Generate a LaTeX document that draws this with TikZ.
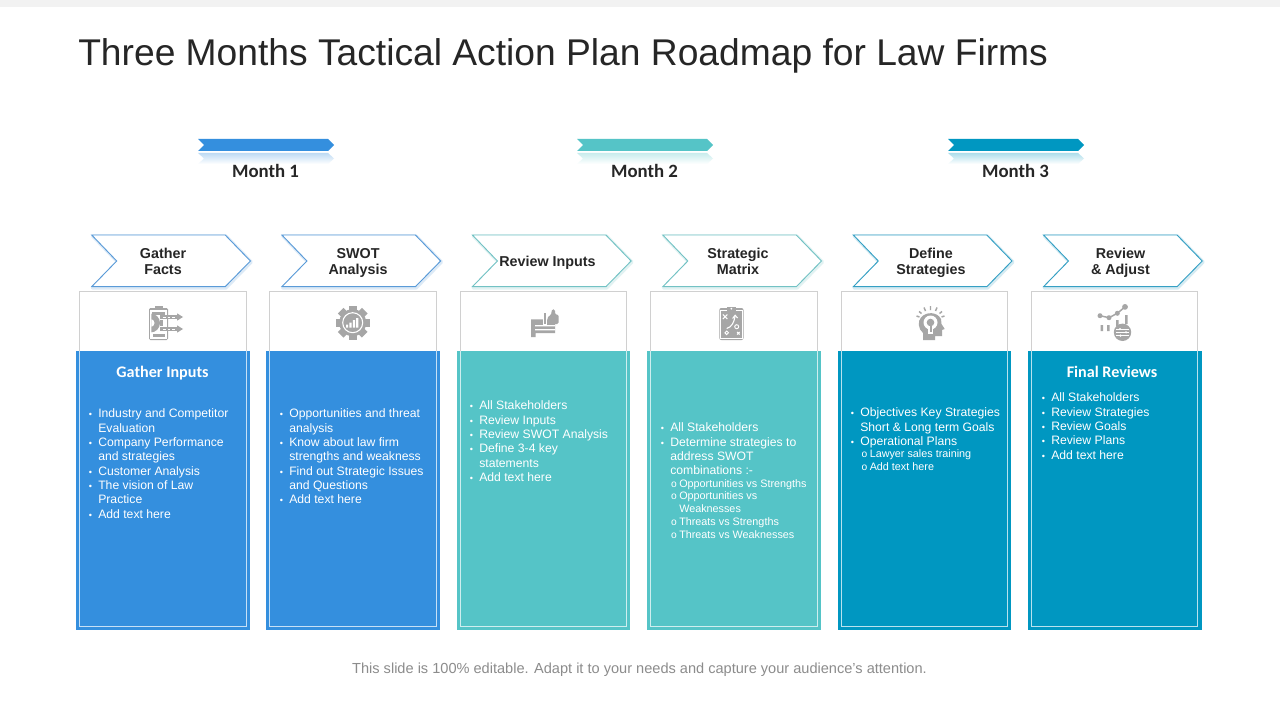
\documentclass[tikz,border=0pt]{standalone}
\usepackage{fontspec}
\setmainfont{Liberation Sans}
\newfontfamily\calib{Carlito}
\definecolor{cblue}{HTML}{348FDE}
\definecolor{cteal}{HTML}{55C4C7}
\definecolor{cdark}{HTML}{0097C1}
\definecolor{eblue}{HTML}{5A9BD8}
\definecolor{eteal}{HTML}{72C2C4}
\definecolor{edark}{HTML}{35A0C4}
\definecolor{ink}{HTML}{262626}
\definecolor{icon}{HTML}{A6A6A6}
\definecolor{edge}{HTML}{D0D0D0}
\definecolor{foot}{HTML}{8C8C8C}
\tikzset{
  x=0.75pt,y=-0.75pt,
  body/.style={font=\fontsize{9.15}{10.75}\selectfont,text=white,align=left,anchor=north west,inner sep=0pt},
  subbody/.style={font=\fontsize{8.1}{9.55}\selectfont,text=white,align=left,anchor=north west,inner sep=0pt},
  steplabel/.style={font=\fontsize{10.75}{12}\selectfont\bfseries,text=ink,align=center,inner sep=0pt},
  monthlabel/.style={font=\calib\fontsize{14.1}{15}\selectfont\bfseries,text=ink,inner sep=0pt},
  cardhead/.style={font=\calib\fontsize{12.1}{13}\selectfont\bfseries,text=white,inner sep=0pt,anchor=base},
}
\newcommand{\bl}{\leavevmode\strut\llap{\scalebox{0.75}{•}\hspace{4.6pt}}}
\newcommand{\sbl}{\leavevmode\strut\llap{\scalebox{0.95}{o}\hspace{1.8pt}}}
\newcommand{\ribbon}[3]{%
  \shade[top color=#3,bottom color=white,shading angle=0]
    (#1,153) -- (#1+130,153) -- (#1+136,158.5) -- (#1+130,164) -- (#1,164) -- (#1+6,158.5) -- cycle;
  \fill[#2] (#1,139) -- (#1+130,139) -- (#1+136,145) -- (#1+130,151) -- (#1,151) -- (#1+6,145) -- cycle;
}
\newcommand{\chev}[2]{%
  \draw[#2!40,line width=2.6pt,line join=round,opacity=.5]
    (#1+1,236) -- (#1+134,236) -- (#1+159.5,262) -- (#1+134,288) -- (#1+1,288) -- (#1+26,262) -- cycle;
  \draw[#2,fill=white,line width=0.7pt,line join=miter]
    (#1,235) -- (#1+133.5,235) -- (#1+158.7,261) -- (#1+133.5,286.7) -- (#1,286.7) -- (#1+25,261) -- cycle;
}
\newcommand{\card}[4]{%
  \fill[#4] (#2,351) rectangle (#3,630);
  \draw[edge,line width=0.75pt] (#1,351) -- (#1,291.5) -- (#1+166.5,291.5) -- (#1+166.5,351);
  \draw[white!72!#4,line width=0.75pt] (#1,351) -- (#1,626.8) -- (#1+166.5,626.8) -- (#1+166.5,351);
}
\begin{document}
\begin{tikzpicture}
\useasboundingbox (0,0) rectangle (1280,720);
\fill[white] (0,0) rectangle (1280,720);
\fill[black!5] (0,0) rectangle (1280,7);
\node[anchor=base west,inner sep=0pt,text=ink,font=\fontsize{27.9}{30}\selectfont] (title) at (78,66) {Three Months Tactical Action Plan Roadmap for Law Firms};

\ribbon{198}{cblue}{cblue!32}
\ribbon{577}{cteal}{cteal!32}
\ribbon{948}{cdark}{cdark!32}
\node[monthlabel] (m1) at (265.5,171) {Month 1};
\node[monthlabel] (m2) at (644.5,171) {Month 2};
\node[monthlabel] (m3) at (1015.5,171) {Month 3};

\chev{91.7}{eblue}\chev{281.9}{eblue}\chev{472.4}{eteal}\chev{662.8}{eteal}\chev{853.3}{edark}\chev{1043.5}{edark}
\node[steplabel] (s1) at (163,263) {\strut Gather\\\strut Facts};
\node[steplabel] (s2) at (358,263) {\strut SWOT\\\strut Analysis};
\node[steplabel] (s3) at (547.5,263) {\strut Review Inputs};
\node[steplabel] (s4) at (738,263) {\strut Strategic\\\strut Matrix};
\node[steplabel] (s5) at (931,263) {\strut Define\\\strut Strategies};
\node[steplabel] (s6) at (1120.5,263) {\strut Review\\\strut\&{} Adjust};

\card{79.5}{76}{250}{cblue}
\card{269.7}{266}{440}{cblue}
\card{460.2}{457}{630}{cteal}
\card{650.6}{647}{821}{cteal}
\card{841.2}{838}{1011}{cdark}
\card{1031.4}{1028}{1202}{cdark}

% icon 1: clipboard, gear and arrows
\fill[icon,rounded corners=1pt] (149,308) rectangle (168,340);
\fill[icon] (155,305.5) rectangle (163,310);
\fill[white] (150.3,310) rectangle (166.7,338.8);
\fill[icon] (152,311.5) rectangle (165,314.5);
\begin{scope}
\clip (151.3,311) rectangle (166,338);
\fill[icon] (150.5,323) circle[radius=9.5];
\fill[white] (150.5,323) circle[radius=4];
\end{scope}
\fill[icon] (153,334) rectangle (165,337);
\fill[icon] (160,320) rectangle (163,326);
\fill[icon] (160,315.3) rectangle (178,318.7);
\fill[icon] (177,313.3) -- (183,317) -- (177,320.7) -- cycle;
\fill[icon] (160,327.3) rectangle (178,330.7);
\fill[icon] (177,325.3) -- (183,329) -- (177,332.7) -- cycle;
\draw[white,line width=0.6pt,dash pattern=on 2pt off 1.5pt] (163,317) -- (177,317) (163,329) -- (177,329);

% icon 2: gear
\foreach \a in {0,45,...,315}
  \fill[icon,rotate around={\a:(352.7,322.7)}] (348.7,305.7) rectangle (356.7,312);
\fill[icon] (352.7,322.7) circle[radius=13.5];
\draw[white,line width=0.8pt] (352.7,322.7) circle[radius=10];
\fill[white] (346,327.5) rectangle (348.2,324.5) (349.4,327.5) rectangle (351.6,322.5) (352.8,327.5) rectangle (355,320) (356.2,327.5) rectangle (358.4,318);

% icon 3: speech and thumb
\fill[icon] (531,319.3) rectangle (555,333) (531,333) rectangle (535.5,337);
\fill[white] (535,325) rectangle (555,326.3) (535,329) rectangle (555,330.3);
\fill[white] (542.5,312) rectangle (547.3,324.6);
\fill[icon] (543.5,313) rectangle (545.7,324);
\fill[icon,rounded corners=1pt] (547.5,317) -- (551,315) -- (552,309.3) -- (555,309.5) -- (555,314.5) -- (558.5,314.5) -- (558.5,324) -- (547.5,324) -- cycle;

% icon 4: playbook clipboard
\fill[icon,rounded corners=1.5pt] (719.3,308) rectangle (743.5,340);
\fill[white] (720.3,309.5) rectangle (742.5,338.8);
\fill[icon] (721.3,310.5) rectangle (741.5,337.8);
\fill[icon] (727,306.5) rectangle (735.5,311);
\fill[white] (731.3,308.7) circle[radius=1];
\draw[white,line width=0.8pt] (722.8,314.5) -- (727.3,319) (727.3,314.5) -- (722.8,319) (737,332) -- (739.5,334.5) (739.5,332) -- (737,334.5);
\draw[white,line width=0.8pt] (726.7,328.5) .. controls (732,327) and (734,322) .. (735,316.5);
\draw[white,line width=0.8pt] (732.6,318.5) -- (735.1,315.3) -- (737.6,318);
\draw[white,line width=0.7pt] (736.7,326.7) circle[radius=2] (726.7,332.8) circle[radius=1.8];

% icon 5: head with bulb
\fill[icon] (923,340) -- (923,333) .. controls (918,329) and (917.5,321) .. (921,317.5) .. controls (926,311.5) and (937,311.5) .. (941,319) -- (941.5,324) -- (944.7,329) -- (942,330) -- (942,336) -- (935,336) -- (935,340) -- cycle;
\fill[white] (930.5,322.5) circle[radius=7];
\fill[white] (927.7,327) rectangle (933.3,334);
\fill[icon] (930.5,322.5) circle[radius=3.8];
\fill[icon] (929.5,324) rectangle (931.5,332);
\draw[icon,line width=1.1pt] (930.5,306) -- (930.5,310) (924,307.5) -- (925.5,311) (937,307.5) -- (935.5,311) (919,311.5) -- (921.5,313.5) (942,311.5) -- (939.5,313.5) (916.5,316) -- (919.5,317) (944.5,316) -- (941.5,317);

% icon 6: chart and sliders
\draw[icon,line width=1.1pt] (1100,315.7) -- (1109,317.7) -- (1117.3,313.3) -- (1125,306.9);
\fill[icon] (1100,315.7) circle[radius=2.5] (1109,317.7) circle[radius=2.5] (1117.3,313.3) circle[radius=2.5] (1125,306.9) circle[radius=2.9];
\fill[icon] (1100.5,325) rectangle (1103,331) (1107,325) rectangle (1109.5,331) (1116,320) rectangle (1118.5,326) (1125,315) rectangle (1127.5,324);
\fill[icon] (1122.5,332.3) circle[radius=8.7];
\draw[white,line width=0.55pt] (1116,329) -- (1129,329) (1116,332.3) -- (1129,332.3) (1116,335.6) -- (1129,335.6);
\fill[white] (1120,329) circle[radius=1.2] (1126,332.3) circle[radius=1.2] (1120.5,335.6) circle[radius=1.2];

% card heads
\node[cardhead] (h1) at (162.5,377.5) {Gather Inputs};
\node[cardhead] (h6) at (1112,377.5) {Final Reviews};

% card texts
\node[body] (t1) at (98,407.5) {\bl Industry and Competitor\\\strut Evaluation\\\bl Company Performance\\\strut and strategies\\\bl Customer Analysis\\\bl The vision of Law\\\strut Practice\\\bl Add text here};
\node[body] (t2) at (289,407.5) {\bl Opportunities and threat\\\strut analysis\\\bl Know about law firm\\\strut strengths and weakness\\\bl Find out Strategic Issues\\\strut and Questions\\\bl Add text here};
\node[body] (t3) at (479,399.5) {\bl All Stakeholders\\\bl Review Inputs\\\bl Review SWOT Analysis\\\bl Define 3-4 key\\\strut statements\\\bl Add text here};
\node[body] (t4) at (670,421.5) {\bl All Stakeholders\\\bl Determine strategies to\\\strut address SWOT\\\strut combinations :-};
\node[subbody] (u4) at (679,478) {\sbl Opportunities vs Strengths\\\sbl Opportunities vs\\\strut Weaknesses\\\sbl Threats vs Strengths\\\sbl Threats vs Weaknesses};
\node[body] (t5) at (860,406.5) {\bl Objectives Key Strategies\\\strut Short \& Long term Goals\\\bl Operational Plans};
\node[subbody] (u5) at (869.5,448.5) {\sbl Lawyer sales training\\\sbl Add text here};
\node[body] (t6) at (1051,391.5) {\bl All Stakeholders\\\bl Review Strategies\\\bl Review Goals\\\bl Review Plans\\\bl Add text here};

\node[anchor=base,inner sep=0pt,text=foot,font=\fontsize{10.93}{12}\selectfont] (foot) at (639.5,673) {This slide is 100\% editable. Adapt it to your needs and capture your audience's attention.};
\end{tikzpicture}
\end{document}
